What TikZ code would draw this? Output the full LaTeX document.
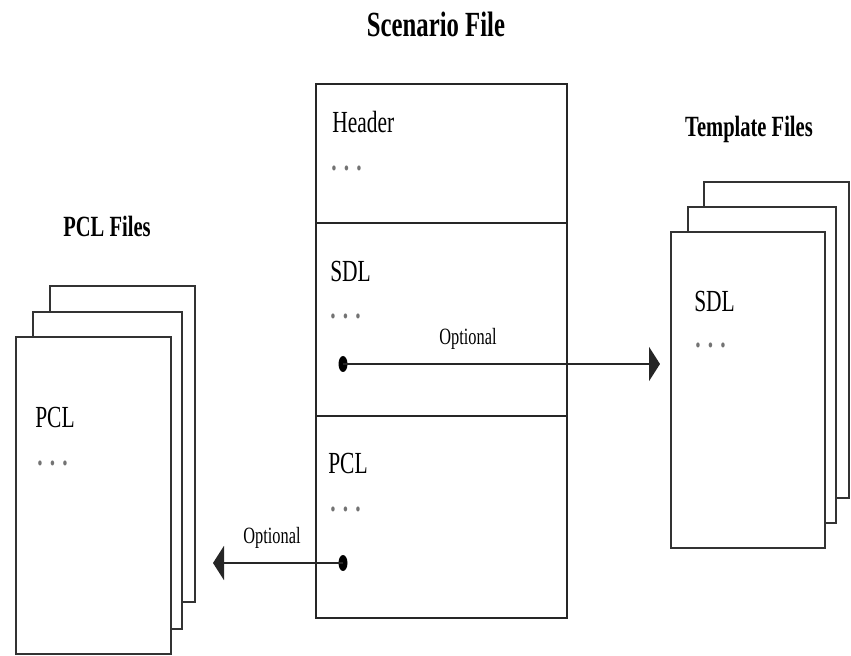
\documentclass[tikz,border=0pt]{standalone}
\usepackage{fontspec}
\setmainfont{Liberation Serif}
\newfontfamily\cond[FakeStretch=0.7]{Liberation Serif}
\usetikzlibrary{arrows.meta,shapes.geometric}
\begin{document}
\begin{tikzpicture}[x=0.75pt,y=-0.75pt,
  page/.style={draw=black!80, line width=1.3pt, fill=white, inner sep=0, rectangle},
  sect/.style={draw=black!85, line width=1.5pt, fill=white, inner sep=0, rectangle, minimum width={251*0.75pt}},
  lbl/.style={font=\cond\fontsize{23}{26}\selectfont, inner sep=0, anchor=base west},
  dotsx/.style={font=\cond\bfseries\fontsize{23}{26}\selectfont, text=black!55, inner sep=0, anchor=base west},
  hd/.style={font=\cond\bfseries\fontsize{22}{26}\selectfont, inner sep=0, anchor=base},
  opt/.style={font=\cond\fontsize{17.5}{20}\selectfont, inner sep=0, anchor=base},
  bullet/.style={ellipse, fill=black, minimum width=6.75pt, minimum height=12pt, inner sep=0},
  conn/.style={line width=1.8pt, draw=black!85, -{Triangle[length=8.25pt,width=25.5pt]}}
]
\useasboundingbox (0,0) rectangle (851,656);

% titles
\node[hd, font=\cond\bfseries\fontsize{26.5}{30}\selectfont] (title) at (436,37) {Scenario File};
\node[hd] (tf) at (749,137) {Template Files};
\node[hd] (pf) at (107,237) {PCL Files};

% left PCL pages
\node[page, minimum width={145*0.75pt}, minimum height={316*0.75pt}] (lp1) at (122.5,444) {};
\node[page, minimum width={149*0.75pt}, minimum height={317*0.75pt}] (lp2) at (107.5,470.5) {};
\node[page, minimum width={155*0.75pt}, minimum height={317*0.75pt}] (lp3) at (93.5,495.5) {};
\node[lbl] (lpt) at (35,427) {PCL};
\node[dotsx] (lpd) at (37,465) {. . .};

% right template pages
\node[page, minimum width={145*0.75pt}, minimum height={316*0.75pt}] (rp1) at (776.5,340) {};
\node[page, minimum width={148*0.75pt}, minimum height={316*0.75pt}] (rp2) at (762,365) {};
\node[page, minimum width={154*0.75pt}, minimum height={316*0.75pt}] (rp3) at (748,390) {};
\node[lbl] (rpt) at (694,312) {SDL};
\node[dotsx] (rpd) at (695,348) {. . .};

% scenario file box
\node[sect, minimum height={139*0.75pt}] (s1) at (441.5,153.5) {};
\node[sect, minimum height={193*0.75pt}] (s2) at (441.5,319.5) {};
\node[sect, minimum height={202*0.75pt}] (s3) at (441.5,517) {};
\node[lbl] (h1) at (332,133) {Header};
\node[dotsx] (d1) at (331,171) {. . .};
\node[lbl] (h2) at (330,282) {SDL};
\node[dotsx] (d2) at (330,319) {. . .};
\node[lbl] (h3) at (328,474) {PCL};
\node[dotsx] (d3) at (330,512) {. . .};

% connectors
\node[bullet] (b1) at (343,364) {};
\coordinate (t1) at (660,364);
\draw[conn] (b1.center) -- (t1);
\node[opt] (o1) at (468,345) {Optional};

\node[bullet] (b2) at (343,563) {};
\coordinate (t2) at (213,563);
\draw[conn] (b2.center) -- (t2);
\node[opt] (o2) at (272,543) {Optional};
\end{tikzpicture}
\end{document}
